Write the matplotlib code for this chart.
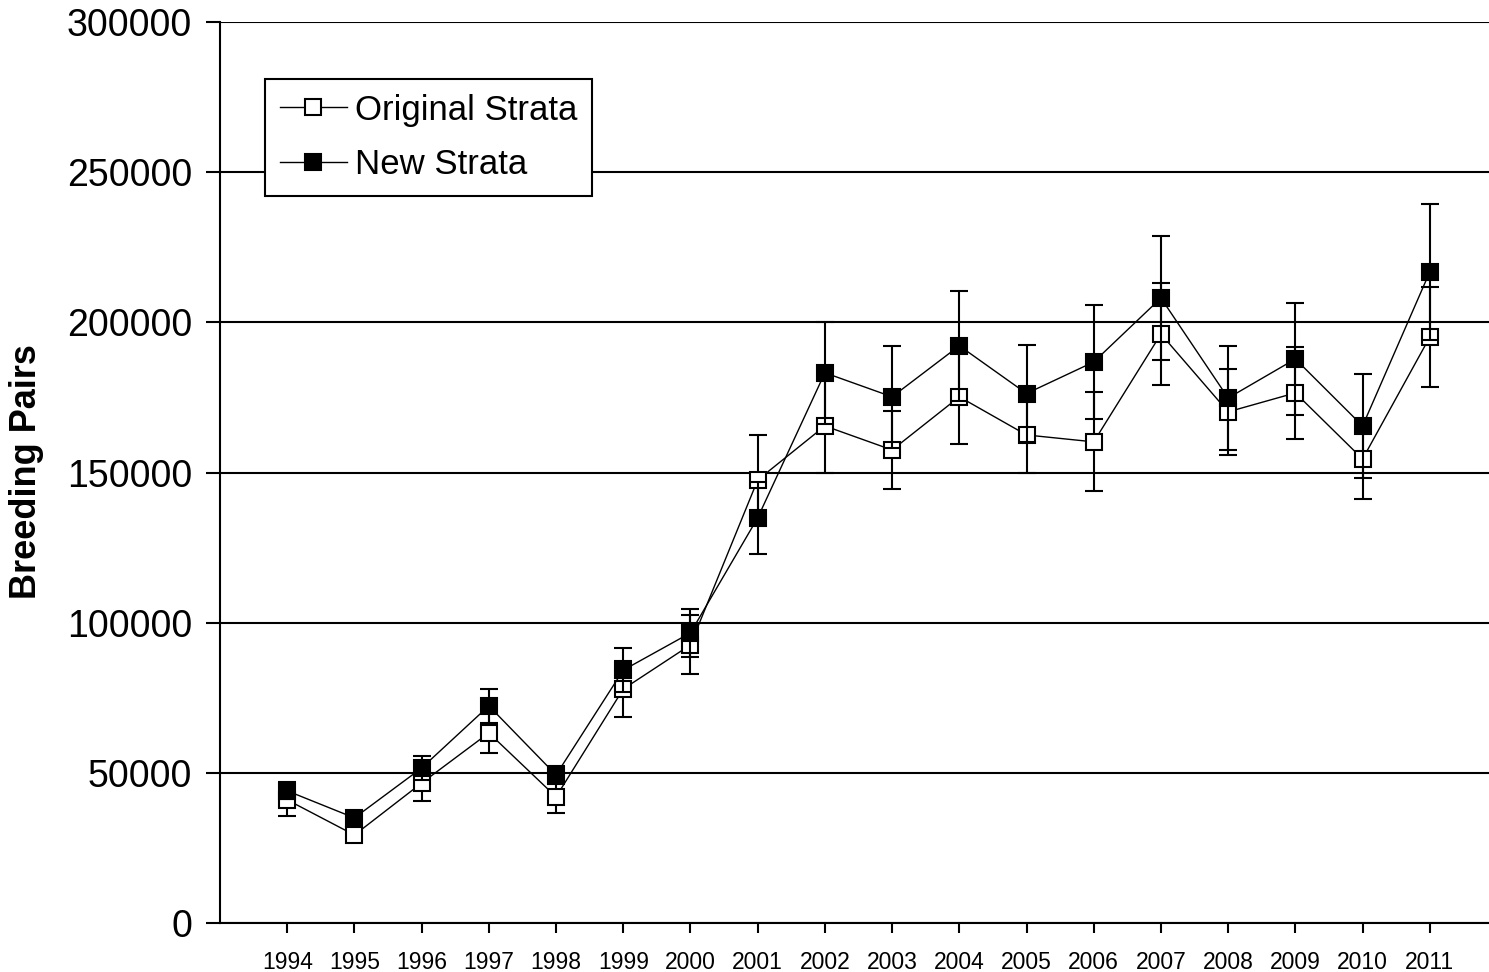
import matplotlib.pyplot as plt
from matplotlib.lines import Line2D
import numpy as np

plt.rcParams['font.family'] = ['Liberation Sans', 'DejaVu Sans']

# Data
years = np.arange(1994, 2012)
original = np.array([41000, 29300, 46600, 63300, 42000, 77900, 92600, 147500, 165500,
                     157500, 175200, 162500, 160200, 196100, 170200, 176500, 154500, 195100])
original_err = np.array([5500, 1500, 6000, 6700, 5400, 9300, 9800, 15000, 15500,
                         13000, 15700, 12500, 16500, 17000, 14300, 15300, 13300, 16600])
new = np.array([44000, 35000, 51600, 72300, 49300, 84200, 96600, 134900, 183200,
                175200, 192200, 176300, 186800, 208100, 174800, 187800, 165500, 216800])
new_err = np.array([2800, 2000, 4000, 5600, 3000, 7400, 8000, 12000, 17000,
                    16900, 18300, 16000, 19000, 20500, 17300, 18700, 17300, 22600])

W, H = 1489, 972
fig = plt.figure(figsize=(W / 100, H / 100), dpi=100)
ax = fig.add_axes([220 / W, 49 / H, 1277 / W, 901 / H])

# Original strata (open squares)
ax.errorbar(years, original, yerr=original_err, color='black', lw=1.0,
            elinewidth=1.5, capsize=6.5, capthick=1.5,
            marker='s', ms=12, mfc='white', mec='black', mew=1.5, zorder=3)
# New strata (filled squares)
ax.errorbar(years, new, yerr=new_err, color='black', lw=1.0,
            elinewidth=1.5, capsize=6.5, capthick=1.5,
            marker='s', ms=12, mfc='black', mec='black', mew=1.5, zorder=4)

ax.set_xlim(1993, 2012)
ax.set_ylim(0, 300000)
ax.set_yticks(np.arange(0, 300001, 50000))
ax.set_xticks(years)
ax.set_xticklabels([str(y) for y in years], fontsize=16.5)
ax.tick_params(axis='y', labelsize=27, length=10, width=1.5, pad=10)
ax.tick_params(axis='x', length=7, width=1.5, pad=13)

ax.grid(axis='y', color='black', lw=1.5)
ax.set_axisbelow(True)
ax.spines['top'].set_visible(False)
ax.spines['right'].set_visible(False)
ax.spines['left'].set_linewidth(1.5)
ax.spines['bottom'].set_linewidth(1.5)

fig.text(27 / W, 1 - 472 / H, 'Breeding Pairs', rotation=90, fontsize=26,
         fontweight='bold', ha='center', va='center')

handles = [
    Line2D([], [], color='black', lw=1.0, marker='s', ms=11, mfc='white', mec='black', mew=1.5),
    Line2D([], [], color='black', lw=1.0, marker='s', ms=11, mfc='black', mec='black', mew=1.5),
]
leg = ax.legend(handles, ['Original Strata', 'New Strata'],
                loc='upper left', bbox_to_anchor=(265 / W, 1 - 79 / H),
                bbox_transform=fig.transFigure, fontsize=25, frameon=True,
                fancybox=False, edgecolor='black', framealpha=1,
                handlelength=1.95, handletextpad=0.22, labelspacing=0.62,
                borderpad=0.42, borderaxespad=0)
leg.get_frame().set_linewidth(1.5)

fig.savefig('out.png', dpi=100)
